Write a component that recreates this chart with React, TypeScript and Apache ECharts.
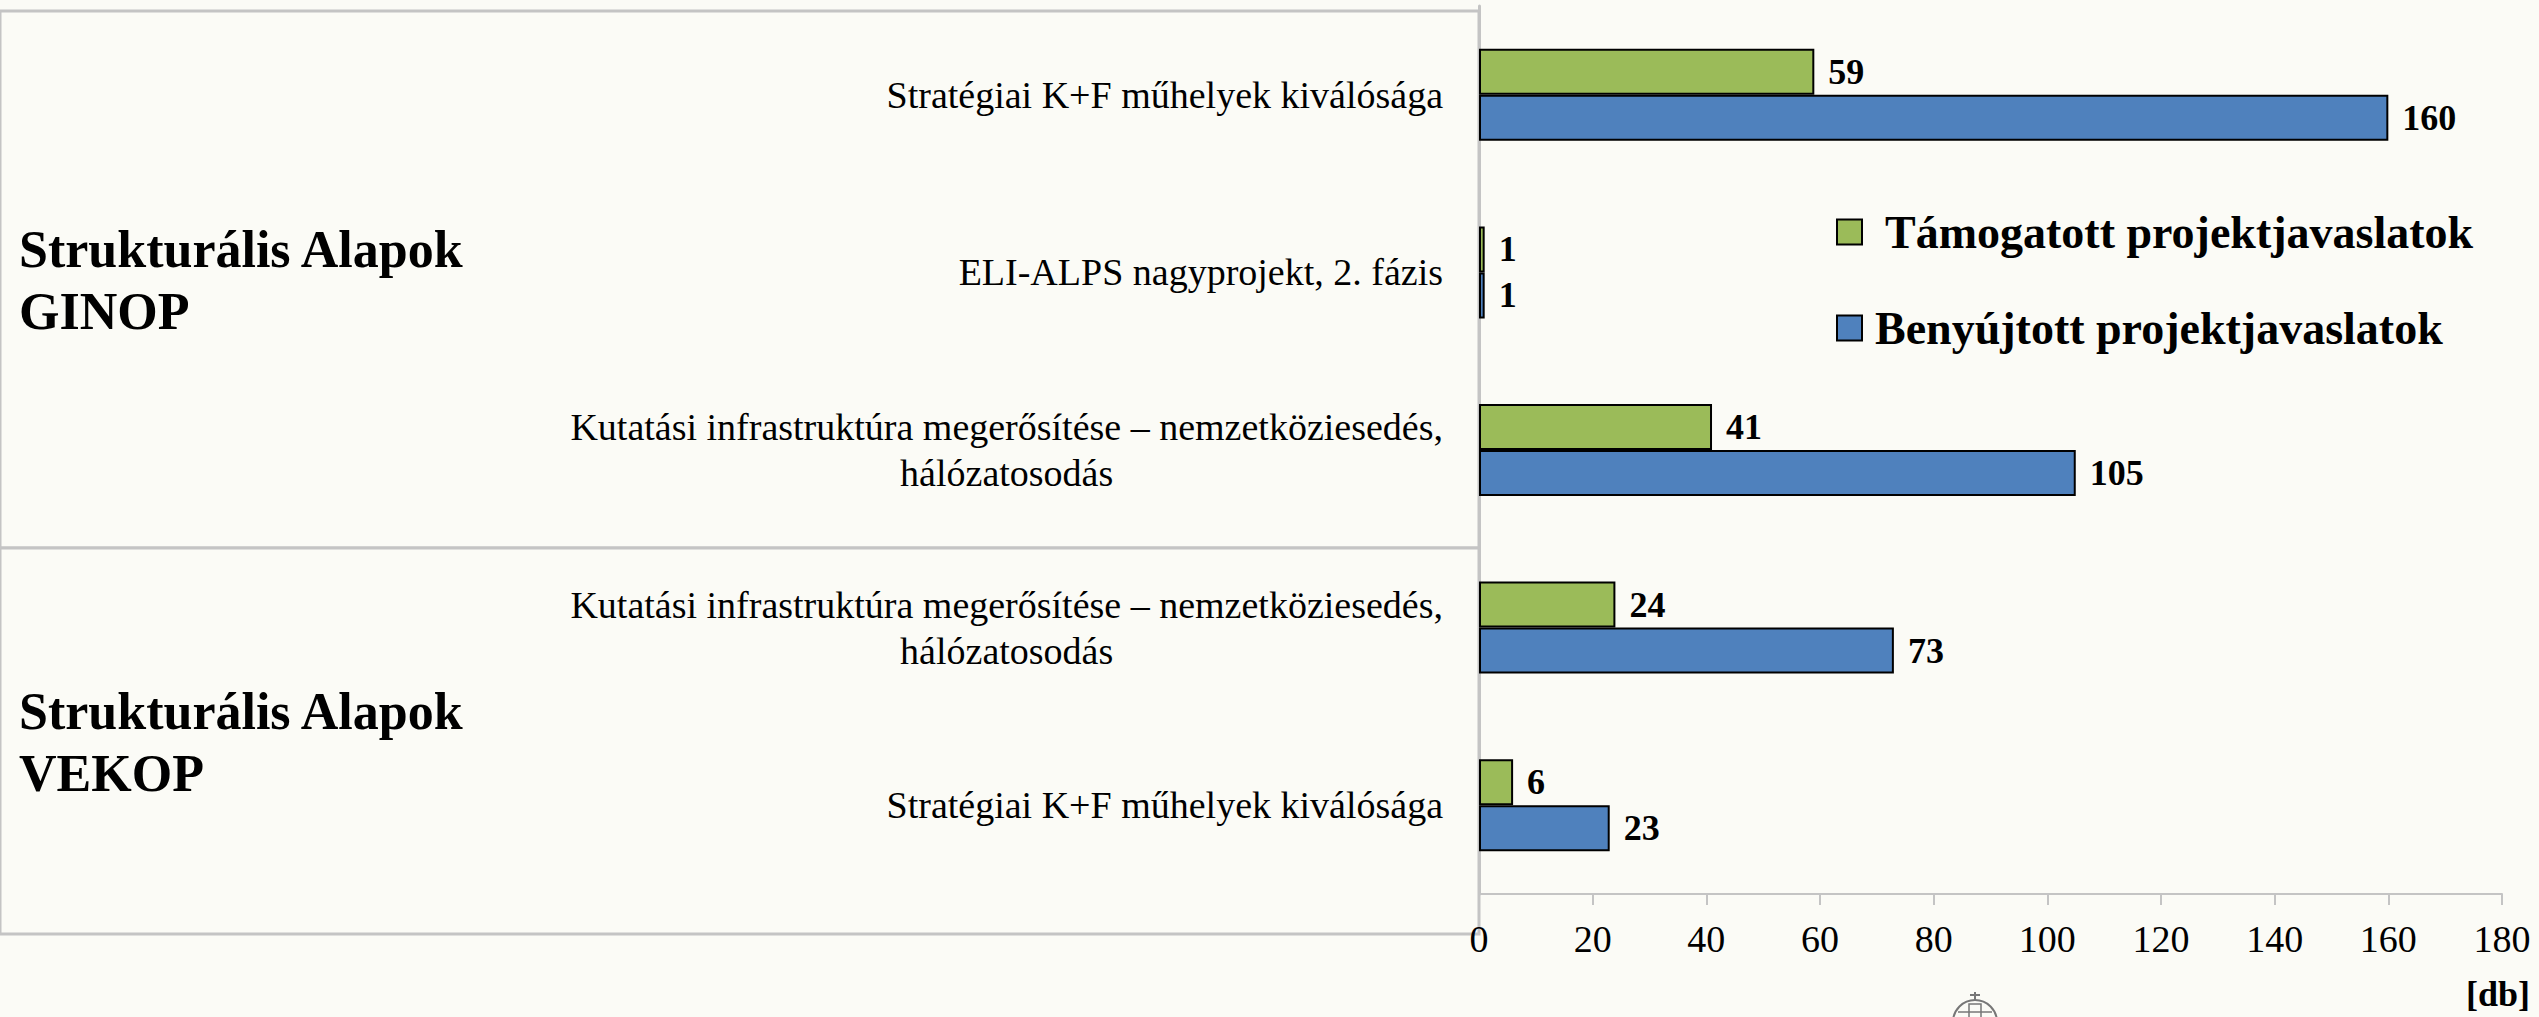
import React, { useEffect, useRef } from "react";
import * as echarts from "echarts";

const categories = [
  "Stratégiai K+F műhelyek kiválósága",
  "ELI-ALPS nagyprojekt, 2. fázis",
  "Kutatási infrastruktúra megerősítése – nemzetköziesedés,\nhálózatosodás",
  "Kutatási infrastruktúra megerősítése – nemzetköziesedés,\nhálózatosodás",
  "Stratégiai K+F műhelyek kiválósága",
];
const supported = [59, 1, 41, 24, 6];
const submitted = [160, 1, 105, 73, 23];
const seriesNames = ["Támogatott projektjavaslatok", "Benyújtott projektjavaslatok"];
const groupLabels = ["Strukturális Alapok\nGINOP", "Strukturális Alapok\nVEKOP"];
const xTicks = { min: 0, max: 180, interval: 20 };
const unitLabel = "[db]";

const FONT = "'Liberation Serif', 'Times New Roman', serif";
const BG = "#fbfbf6";
const GRID_GRAY = "#c4c4c4";

export default function App() {
  const ref = useRef<HTMLDivElement>(null);
  useEffect(() => {
    if (!ref.current) return;
    const chart = echarts.init(ref.current, null, { renderer: "svg" });
    chart.setOption({
      animation: false,
      backgroundColor: BG,
      textStyle: { fontFamily: FONT },
      grid: { left: 1479, top: 6, width: 1023, height: 888, containLabel: false },
      legend: {
        orient: "vertical",
        left: 1836,
        top: 209,
        padding: 0,
        itemGap: 50,
        itemWidth: 25,
        itemHeight: 25,
        icon: "rect",
        data: seriesNames,
        formatter: (name: string) =>
          name === seriesNames[0] ? "{t|" + name + "}" : "{b|" + name + "}",
        textStyle: {
          fontFamily: FONT,
          fontWeight: "bold",
          fontSize: 46,
          color: "#000",
          rich: {
            t: { fontFamily: FONT, fontWeight: "bold", fontSize: 46, color: "#000", padding: [0, 0, 0, 18] },
            b: { fontFamily: FONT, fontWeight: "bold", fontSize: 46, color: "#000", padding: [0, 0, 0, 8] },
          },
        },
      },
      xAxis: {
        type: "value",
        min: xTicks.min,
        max: xTicks.max,
        interval: xTicks.interval,
        axisLine: { show: true, lineStyle: { color: GRID_GRAY, width: 2 } },
        axisTick: { show: true, length: 11, lineStyle: { color: GRID_GRAY, width: 2 } },
        splitLine: { show: false },
        axisLabel: { fontFamily: FONT, fontSize: 38, color: "#000", margin: 26 },
      },
      yAxis: {
        type: "category",
        inverse: true,
        data: categories,
        axisLine: { show: true, lineStyle: { color: GRID_GRAY, width: 3 } },
        axisTick: { show: false },
        axisLabel: {
          margin: 36,
          fontFamily: FONT,
          fontSize: 38,
          lineHeight: 46,
          color: "#000",
          formatter: (v: string) =>
            v
              .split("\n")
              .map((l) => "{c|" + l + "}")
              .join("\n"),
          rich: {
            c: { align: "center", fontFamily: FONT, fontSize: 38, lineHeight: 46, color: "#000" },
          },
        },
      },
      series: [
        {
          name: seriesNames[0],
          type: "bar",
          data: supported,
          barWidth: 46,
          barGap: "0%",
          itemStyle: { color: "#9bbb59", borderColor: "#000", borderWidth: 2 },
          label: {
            show: true,
            position: "right",
            distance: 14,
            fontFamily: FONT,
            fontWeight: "bold",
            fontSize: 36,
            color: "#000",
          },
        },
        {
          name: seriesNames[1],
          type: "bar",
          data: submitted,
          barWidth: 46,
          barGap: "0%",
          itemStyle: { color: "#4f81bd", borderColor: "#000", borderWidth: 2 },
          label: {
            show: true,
            position: "right",
            distance: 14,
            fontFamily: FONT,
            fontWeight: "bold",
            fontSize: 36,
            color: "#000",
          },
        },
      ],
      graphic: [
        {
          type: "rect",
          z: -1,
          shape: { x: 0, y: 11, width: 1479, height: 537 },
          style: { fill: BG, stroke: GRID_GRAY, lineWidth: 3 },
          silent: true,
        },
        {
          type: "rect",
          z: -1,
          shape: { x: 0, y: 548, width: 1479, height: 386 },
          style: { fill: BG, stroke: GRID_GRAY, lineWidth: 3 },
          silent: true,
        },
        {
          type: "text",
          left: 19,
          top: 280 - 62,
          style: {
            text: groupLabels[0],
            fontFamily: FONT,
            fontWeight: "bold",
            fontSize: 52,
            lineHeight: 62,
            fill: "#000",
          },
        },
        {
          type: "text",
          left: 19,
          top: 742 - 62,
          style: {
            text: groupLabels[1],
            fontFamily: FONT,
            fontWeight: "bold",
            fontSize: 52,
            lineHeight: 62,
            fill: "#000",
          },
        },
        {
          type: "text",
          right: 9,
          top: 976,
          style: {
            text: unitLabel,
            fontFamily: FONT,
            fontWeight: "bold",
            fontSize: 36,
            fill: "#000",
          },
        },
        {
          type: "group",
          silent: true,
          children: [
            {
              type: "arc",
              shape: { cx: 1975, cy: 1022, r: 22, startAngle: Math.PI, endAngle: 2 * Math.PI },
              style: { stroke: "#777", lineWidth: 2, fill: "none" },
            },
            {
              type: "line",
              shape: { x1: 1975, y1: 992, x2: 1975, y2: 1001 },
              style: { stroke: "#777", lineWidth: 2 },
            },
            {
              type: "line",
              shape: { x1: 1970, y1: 995, x2: 1980, y2: 995 },
              style: { stroke: "#777", lineWidth: 2 },
            },
            {
              type: "rect",
              shape: { x: 1969, y: 1004, width: 12, height: 15 },
              style: { stroke: "#777", lineWidth: 1.5, fill: "none" },
            },
            {
              type: "line",
              shape: { x1: 1958, y1: 1012, x2: 1992, y2: 1012 },
              style: { stroke: "#777", lineWidth: 1.5 },
            },
          ],
        },
      ],
    });
    return () => chart.dispose();
  }, []);
  return (
    <div
      ref={ref}
      style={{ position: "absolute", left: 0, top: 0, width: 2539, height: 1017, background: BG }}
    />
  );
}
